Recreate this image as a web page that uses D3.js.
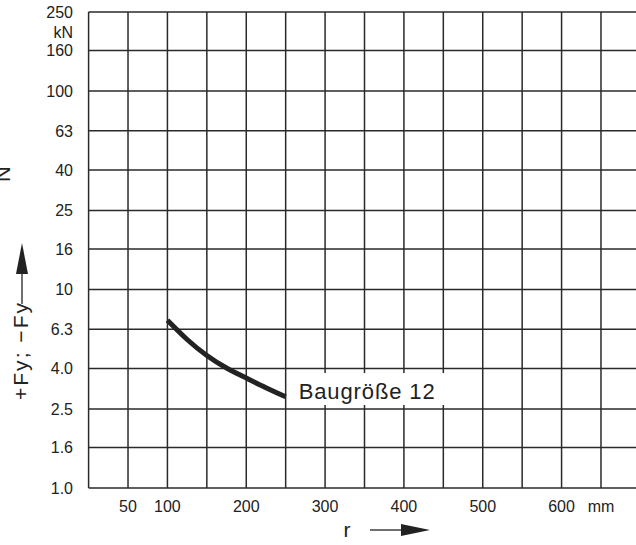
<!DOCTYPE html>
<meta charset="utf-8">
<style>
  body { margin: 0; background: #fff; }
  svg text { font-family: "Liberation Sans", Arial, sans-serif; fill: #222; }
  .grid line { stroke: #2a2a2a; stroke-width: 1.5px; }
  .curve { fill: none; stroke: #222; stroke-width: 5px; }
</style>
<body>
<script src="https://cdnjs.cloudflare.com/ajax/libs/d3/7.8.5/d3.min.js"></script>
<script>
// y axis: force in kN (log scale, Renard series)
var yTicks = [1.0, 1.6, 2.5, 4.0, 6.3, 10, 16, 25, 40, 63, 100, 160, 250];
var yLabels = ["1.0", "1.6", "2.5", "4.0", "6.3", "10", "16", "25", "40", "63", "100", "160", "250"];
// x axis: radius r in mm
var xGrid = [0, 50, 100, 150, 200, 250, 300, 350, 400, 450, 500, 550, 600, 650, 700];
var xLabels = [50, 100, 200, 300, 400, 500, 600];
// curve for Baugröße 12
var curveR = [100, 125, 150, 175, 200, 225, 250];
var curveF = [7.0, 5.6, 4.65, 4.02, 3.58, 3.2, 2.88];
var curveName = "Baugröße 12";

var width = 636, height = 545;

var x = d3.scaleLinear().domain([0, 700]).range([88.6, 640.4]);
var y = d3.scaleLog().domain([1, 250]).range([488, 12]);

var svg = d3.select("body").append("svg")
    .attr("width", width)
    .attr("height", height);

// grid
var grid = svg.append("g").attr("class", "grid");
grid.selectAll(".h")
    .data(yTicks)
    .enter().append("line")
    .attr("x1", x(0)).attr("x2", x(700))
    .attr("y1", function(d) { return y(d); })
    .attr("y2", function(d) { return y(d); });
grid.selectAll(".v")
    .data(xGrid)
    .enter().append("line")
    .attr("x1", function(d) { return x(d); })
    .attr("x2", function(d) { return x(d); })
    .attr("y1", y(1)).attr("y2", y(250));

// y tick labels
svg.append("g").selectAll("text")
    .data(yTicks)
    .enter().append("text")
    .attr("x", 73)
    .attr("y", function(d) { return y(d); })
    .attr("dy", "0.36em")
    .attr("text-anchor", "end")
    .style("font-size", "16px")
    .text(function(d, i) { return yLabels[i]; });
svg.append("text")
    .attr("x", 73).attr("y", (y(250) + y(160)) / 2 + 1)
    .attr("dy", "0.36em")
    .attr("text-anchor", "end")
    .style("font-size", "16px")
    .text("kN");

// x tick labels
svg.append("g").selectAll("text")
    .data(xLabels)
    .enter().append("text")
    .attr("x", function(d) { return x(d); })
    .attr("y", 512)
    .attr("text-anchor", "middle")
    .style("font-size", "16px")
    .text(function(d) { return d; });
svg.append("text")
    .attr("x", x(650)).attr("y", 512)
    .attr("text-anchor", "middle")
    .style("font-size", "16px")
    .text("mm");

// the curve
var line = d3.line()
    .x(function(d) { return x(d[0]); })
    .y(function(d) { return y(d[1]); })
    .curve(d3.curveNatural);
svg.append("path")
    .attr("class", "curve")
    .attr("d", line(curveR.map(function(r, i) { return [r, curveF[i]]; })));

// label with white box over the grid
svg.append("rect")
    .attr("x", x(250) + 3).attr("y", 373)
    .attr("width", 170).attr("height", 32)
    .attr("fill", "#fff");
svg.append("text")
    .attr("x", x(250) + 13)
    .attr("y", 399)
    .style("font-size", "22px")
    .attr("textLength", 136)
    .attr("lengthAdjust", "spacing")
    .text(curveName);

// x axis title with arrow
svg.append("text")
    .attr("x", 347).attr("y", 537)
    .attr("text-anchor", "middle")
    .style("font-size", "21px")
    .text("r");
svg.append("line")
    .attr("x1", 370).attr("x2", 402)
    .attr("y1", 530).attr("y2", 530)
    .attr("stroke", "#222").attr("stroke-width", 1.3);
svg.append("path")
    .attr("d", "M401,524L430,530L401,536Z")
    .attr("fill", "#222");

// y axis title with arrow
svg.append("text")
    .attr("transform", "translate(28,400) rotate(-90)")
    .style("font-size", "21px")
    .attr("textLength", 97)
    .attr("lengthAdjust", "spacing")
    .text("+Fy; \u2212Fy");
svg.append("line")
    .attr("x1", 22).attr("x2", 22)
    .attr("y1", 304).attr("y2", 270)
    .attr("stroke", "#222").attr("stroke-width", 1.3);
svg.append("path")
    .attr("d", "M16,274L22,243L28,274Z")
    .attr("fill", "#222");

// cut-off unit letter at the left edge
svg.append("text")
    .attr("transform", "translate(10,182) rotate(-90)")
    .style("font-size", "22px")
    .text("N");
</script>
</body>
